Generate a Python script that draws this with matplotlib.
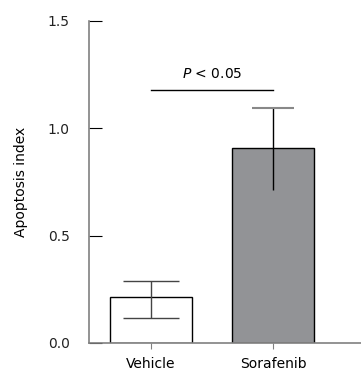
import numpy as np
import matplotlib.pyplot as plt

# group names, means and error (lower, upper)
groups = ['Vehicle', 'Sorafenib']
means = [0.214, 0.907]
err_low = [0.098, 0.195]
err_high = [0.074, 0.186]
bar_colors = ['white', '#929396']
yticks = [0.0, 0.5, 1.0, 1.5]

fig = plt.figure(figsize=(3.61, 3.74), dpi=100)
ax = fig.add_axes([0.2465, 0.0829, 0.7535, 0.861])

x = np.arange(len(groups))
ax.bar(x, means, width=0.672, color=bar_colors, edgecolor='black', linewidth=1.0, zorder=2)

# Vehicle: caps on both ends
ax.errorbar(x[0], means[0], yerr=[[err_low[0]], [err_high[0]]], fmt='none', ecolor='#444444',
            elinewidth=1.0, capsize=20, capthick=1.0, zorder=3)
# Sorafenib: cap on top only, lower whisker ends inside the bar
cap_half = 0.17
ax.vlines(x[1], means[1] - err_low[1], means[1] + err_high[1], color='black', lw=1.0, zorder=4)
ax.hlines(means[1] + err_high[1], x[1] - cap_half, x[1] + cap_half, color='#888888', lw=1.5, zorder=4)

# significance bar
ax.plot([0.0, 1.0], [1.18, 1.18], color='black', lw=1.0)
ax.text(0.5, 1.22, r'$\it{P}$ < 0.05', ha='center', va='bottom', fontsize=10)

ax.set_xlim(-0.508, 1.721)
ax.set_ylim(0, 1.5)
ax.set_xticks(x)
ax.set_xticklabels(groups, fontsize=10)
ax.set_yticks(yticks)
ax.set_yticklabels(['%.1f' % t for t in yticks], fontsize=10, color='#222222')
ax.set_ylabel('Apoptosis index', fontsize=10, labelpad=14)

for s in ['top', 'right']:
    ax.spines[s].set_visible(False)
for s in ['left', 'bottom']:
    ax.spines[s].set_color('#808080')
    ax.spines[s].set_linewidth(1.2)
ax.tick_params(axis='y', direction='in', length=9, color='black', pad=14)
ax.tick_params(axis='x', direction='out', length=4, color='#808080', pad=6)

fig.savefig('out.png', dpi=100)
